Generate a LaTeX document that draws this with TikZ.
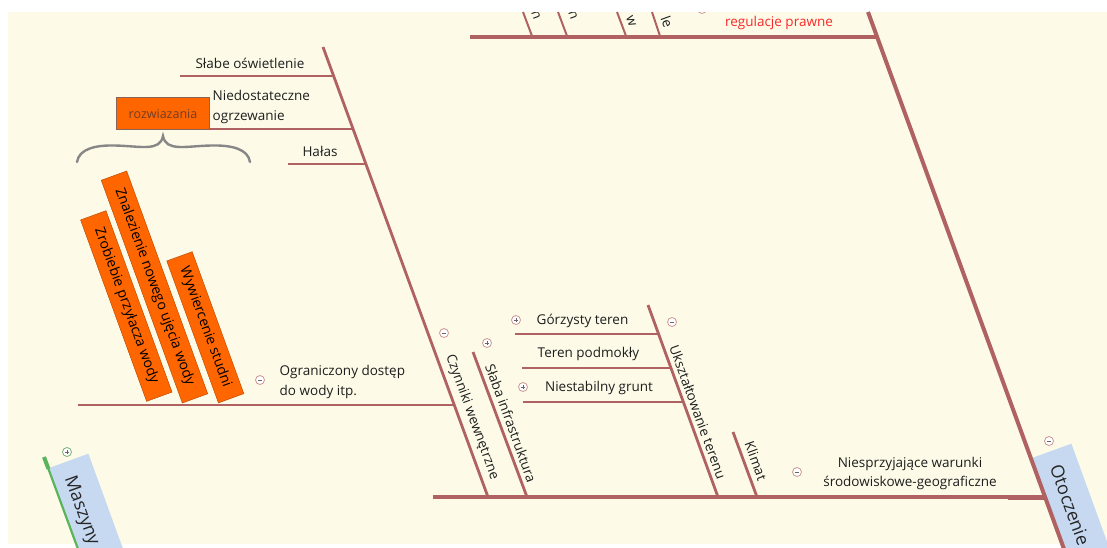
\documentclass[tikz,border=0pt]{standalone}
\usepackage{fontspec}
\setmainfont{Open Sans}
\usetikzlibrary{calc}
\definecolor{cream}{RGB}{253,251,232}
\definecolor{bone}{RGB}{176,98,98}
\definecolor{txt}{RGB}{30,30,30}
\definecolor{orng}{RGB}{255,102,0}
\definecolor{lblue}{RGB}{198,217,241}
\definecolor{icored}{RGB}{205,150,150}
\definecolor{icogrn}{RGB}{120,175,120}
\definecolor{grn}{RGB}{90,180,90}
\definecolor{redtxt}{RGB}{250,40,40}
\definecolor{bracec}{RGB}{135,135,135}
\definecolor{soltxt}{RGB}{110,62,40}
\definecolor{solframe}{RGB}{140,100,85}
\tikzset{
 bonemain/.style={draw=bone,line width=4pt},
 bonetop/.style={draw=bone,line width=3.3pt},
 bonesec/.style={draw=bone,line width=2.8pt},
 bonerib/.style={draw=bone,line width=2.4pt},
 bonesmall/.style={draw=bone,line width=2pt},
 lbl/.style={text=txt,font=\fontsize{13.5}{19.5}\selectfont,inner sep=0pt},
 rlbl/.style={lbl,rotate=-70},
 solbox/.style={fill=orng,draw=orng!75!black,line width=0.5pt,rotate=-70,minimum height=27pt,inner sep=0pt,font=\fontsize{14}{16}\selectfont,text=black},
 catbox/.style={fill=lblue,rotate=-70,minimum height=42pt,minimum width=240pt,inner sep=0pt},
 cattxt/.style={rotate=-70,font=\fontsize{18}{20}\selectfont,text=black!85,inner sep=0pt},
 minico/.style={circle,draw=icored,fill=white,line width=0.8pt,minimum size=9pt,inner sep=0pt,
   path picture={\draw[line width=0.8pt,black!60] ([xshift=-2.3pt]path picture bounding box.center)--([xshift=2.3pt]path picture bounding box.center);}},
 plusico/.style={circle,draw=icored,fill=white,line width=0.8pt,minimum size=9pt,inner sep=0pt,
   path picture={\draw[line width=0.8pt,black!60] ([xshift=-2.3pt]path picture bounding box.center)--([xshift=2.3pt]path picture bounding box.center)
     ([yshift=-2.3pt]path picture bounding box.center)--([yshift=2.3pt]path picture bounding box.center);}},
}
\begin{document}
\begin{tikzpicture}[x=1pt,y=-1pt]
\useasboundingbox (0,0) rectangle (1107,547);
\clip (0,0) rectangle (1107,547);
\fill[white] (0,0) rectangle (1107,547);
\fill[cream] (8,12) rectangle (1107,544);

% category boxes
\node[catbox] (otbox) at (1092.7,563.6) {};
\node[catbox] (mabox) at (109.7,573.6) {};
\node[cattxt] (otl) at (1070,505) {Otoczenie};
\node[cattxt] (mal) at (81,511) {Maszyny};
\coordinate (ma0) at (44,457);
\coordinate (ma1) at (48.5,469);
\coordinate (ma2) at (78,549);
\draw[grn,line width=4pt] (ma0) -- (ma1);
\draw[grn,line width=2.2pt] (ma1) -- (ma2);

% main spine and big bone
\coordinate (sp0) at (433,497);
\coordinate (sp1) at (1045,497);
\coordinate (sp1a) at (1008,497);
\coordinate (ot0) at (868,12);
\coordinate (ot1) at (877,37);
\coordinate (ot2) at (1064,549);
\draw[bonemain] (sp0) -- (sp1);
\draw[draw=bone,line width=5pt] (sp1a) -- (sp1);
\draw[bonemain] (ot0) -- (ot2);

% top branch
\coordinate (tp0) at (470,37);
\coordinate (tp1a) at (848,37);
\draw[bonetop] (tp0) -- (ot1);
\draw[draw=bone,line width=4.2pt] (tp1a) -- (ot1);
\coordinate (ta0) at (523,12); \coordinate (ta1) at (532,36);
\coordinate (tb0) at (558,12); \coordinate (tb1) at (567,36);
\coordinate (tc0) at (617,12); \coordinate (tc1) at (626,36);
\coordinate (td0) at (652,12); \coordinate (td1) at (660,36);
\draw[bonesmall] (ta0) -- (ta1);
\draw[bonesmall] (tb0) -- (tb1);
\draw[bonesmall] (tc0) -- (tc1);
\draw[bonesmall] (td0) -- (td1);
\begin{scope}
\clip (8,12) rectangle (1107,547);
\node[rlbl] (tfa) at (536,15) {n};
\node[rlbl] (tfb) at (573,15) {n};
\node[rlbl] (tfc) at (631,21) {w};
\node[rlbl] (tfd) at (667,22) {le};
\node[minico] (tico) at (702,9) {};
\end{scope}
\node[lbl,text=redtxt] (regl) at (779,23) {regulacje prawne};

% Czynniki wewnetrzne
\coordinate (cz0) at (323,47);
\coordinate (cz1) at (488,497);
\draw[bonesec] (cz0) -- (cz1);
\node[rlbl] (czl) at (472,417) {Czynniki wewnętrzne};
\node[minico] (czico) at (444,333) {};

\coordinate (r1a) at (180,76);  \coordinate (r1b) at (333.6,76);
\coordinate (r2a) at (200,129); \coordinate (r2b) at (353.1,129);
\coordinate (r3a) at (288,164); \coordinate (r3b) at (365.9,164);
\coordinate (r4a) at (78,405);  \coordinate (r4b) at (454.3,405);
\draw[bonerib] (r1a) -- (r1b);
\draw[bonerib] (r2a) -- (r2b);
\draw[bonerib] (r3a) -- (r3b);
\draw[bonerib] (r4a) -- (r4b);
\node[lbl] (r1l) at (250,63) {Słabe oświetlenie};
\node[lbl,anchor=west,align=left] (r2l) at (212.5,107) {Niedostateczne\\ogrzewanie};
\node[lbl] (r3l) at (320,151) {Hałas};
\node[lbl,anchor=west,align=left] (r4l) at (279.5,382) {Ograniczony dostęp\\do wody itp.};
\node[minico] (r4ico) at (260,380) {};

% solutions
\node[fill=orng,draw=solframe,line width=1.5pt,minimum width=93pt,minimum height=32pt,inner sep=0pt,text=soltxt,font=\fontsize{12.5}{14}\selectfont] (roz) at (163,113.5) {rozwiazania};
\coordinate (brl) at (77,162);
\coordinate (brm) at (163,136);
\coordinate (brr) at (250,162);
\draw[bracec,line width=2.4pt,line cap=round] (brl) .. controls (79,149) and (95,145) .. (115,145.5) .. controls (140,146) and (160,152) .. (brm)
   .. controls (166,152) and (186,146) .. (211,145.5) .. controls (232,145) and (248,149) .. (brr);
\node[solbox,minimum width=193pt] (s1) at (126.3,306) {Zrobiebie przyłacza wody};
\node[solbox,minimum width=237pt] (s2) at (154.5,287) {Znalezienie nowego ujęcia wody};
\node[solbox,minimum width=151pt] (s3) at (205.3,327.3) {Wywiercenie studni};

% Slaba infrastruktura
\coordinate (sl0) at (473,352);
\coordinate (sl1) at (527,497);
\draw[bonesec] (sl0) -- (sl1);
\node[rlbl] (sll) at (511,423) {Słaba infrastruktura};
\node[plusico] (slico) at (487,343) {};

% Ukształtowanie terenu
\coordinate (uk0) at (648,305);
\coordinate (uk1) at (718,497);
\draw[bonesec] (uk0) -- (uk1);
\node[rlbl] (ukl) at (698,412) {Ukształtowanie terenu};
\node[minico] (ukico) at (672,322) {};
\coordinate (u1a) at (515,334); \coordinate (u1b) at (658.6,334);
\coordinate (u2a) at (522,368); \coordinate (u2b) at (671,368);
\coordinate (u3a) at (523,402); \coordinate (u3b) at (683.4,402);
\draw[bonerib] (u1a) -- (u1b);
\draw[bonerib] (u2a) -- (u2b);
\draw[bonerib] (u3a) -- (u3b);
\node[lbl] (u1l) at (582.5,321) {Górzysty teren};
\node[lbl] (u2l) at (588.5,354) {Teren podmokły};
\node[lbl] (u3l) at (599,388) {Niestabilny grunt};
\node[plusico] (u1ico) at (516,320) {};
\node[plusico] (u3ico) at (523,387) {};

% Klimat
\coordinate (kl0) at (733,432);
\coordinate (kl1) at (757,497);
\draw[bonesec] (kl0) -- (kl1);
\node[rlbl] (kll) at (756,461) {Klimat};

% Niesprzyjajace
\node[lbl,align=center] (nwl) at (910,473.5) {Niesprzyjające warunki\\środowiskowe-geograficzne};
\node[minico] (nwico) at (797,472) {};
\node[minico] (otico) at (1049,441) {};
\node[plusico,draw=icogrn] (maico) at (67,452) {};
\end{tikzpicture}
\end{document}
